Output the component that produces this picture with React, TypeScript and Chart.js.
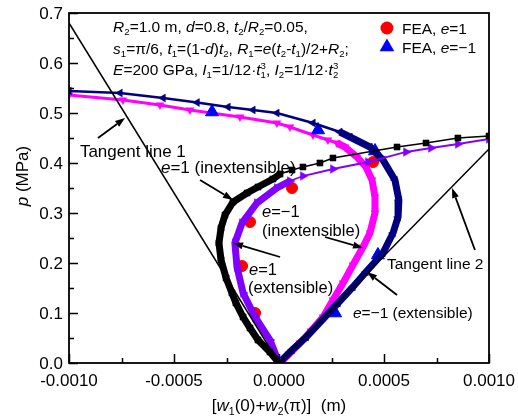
import { useEffect, useRef } from "react";
import { Chart, registerables } from "chart.js";
Chart.register(...registerables);

const FONT = '"Liberation Sans", Arial, Helvetica, sans-serif';

// ---------- data (x in m, p in MPa) ----------
const xTickValues = [-0.001, -0.0005, 0, 0.0005, 0.001];
const xTickLabels = ["-0.0010", "-0.0005", "0.0000", "0.0005", "0.0010"];
const yTickValues = [0, 0.1, 0.2, 0.3, 0.4, 0.5, 0.6, 0.7];
const yTickLabels = ["0.0", "0.1", "0.2", "0.3", "0.4", "0.5", "0.6", "0.7"];

// e=1 (inextensible) - black squares
const e1InextX = [0, -0.000043, -0.0001, -0.000138, -0.000171, -0.000205, -0.000224, -0.000252, -0.000276, -0.000286, -0.000276, -0.000257, -0.000219, -0.000152, -0.0001, -0.000029, 0.000005, 0.000062, 0.000114, 0.000195, 0.000257, 0.000562, 0.0007, 0.000852, 0.001];
const e1InextP = [0, 0.022, 0.046, 0.07, 0.092, 0.12, 0.14, 0.17, 0.206, 0.24, 0.27, 0.296, 0.322, 0.34, 0.352, 0.368, 0.378, 0.386, 0.392, 0.4, 0.41, 0.432, 0.44, 0.45, 0.454];

// e=1 (extensible) - violet right triangles
const e1ExtX = [0, -0.000043, -0.000114, -0.000171, -0.0002, -0.00021, -0.000176, -0.000105, -0.00001, 0.000052, 0.000114, 0.000257, 0.000424, 0.000605, 0.000724, 0.000852, 0.001];
const e1ExtP = [0, 0.046, 0.092, 0.14, 0.192, 0.24, 0.28, 0.32, 0.35, 0.364, 0.374, 0.388, 0.402, 0.422, 0.43, 0.438, 0.448];

// e=-1 (inextensible) - magenta down triangles
const em1InextX = [-0.001, -0.000743, -0.000567, -0.000424, -0.000186, -0.00001, 0.000052, 0.000162, 0.000233, 0.000276, 0.000314, 0.000371, 0.000414, 0.000443, 0.000457, 0.000457, 0.000433, 0.0004, 0.000352, 0.000305, 0.000257, 0.00021, 0.000152, 0.0001, 0.000048, 0.000005];
const em1InextP = [0.536, 0.526, 0.516, 0.506, 0.492, 0.48, 0.472, 0.456, 0.446, 0.44, 0.432, 0.412, 0.392, 0.366, 0.332, 0.3, 0.26, 0.232, 0.196, 0.16, 0.126, 0.092, 0.064, 0.04, 0.018, 0];

// e=-1 (extensible) - navy left triangles
const em1ExtX = [-0.001, -0.000757, -0.000552, -0.00039, -0.000243, -0.000124, -0.00001, 0.000162, 0.00029, 0.000338, 0.000433, 0.000495, 0.000552, 0.000571, 0.000567, 0.000543, 0.000495, 0.000414, 0.000352, 0.000281, 0.00013, 0.000062, 0];
const em1ExtP = [0.544, 0.54, 0.53, 0.521, 0.512, 0.506, 0.5, 0.48, 0.462, 0.452, 0.432, 0.406, 0.366, 0.326, 0.292, 0.26, 0.22, 0.182, 0.152, 0.12, 0.052, 0.026, 0];

// FEA results
const feaE1X = [-0.000114, -0.000176, -0.000138, 0.000062, 0.000448];
const feaE1P = [0.1, 0.194, 0.282, 0.35, 0.402];
const feaEm1X = [-0.000319, 0.000186, 0.000457, 0.000471, 0.000267];
const feaEm1P = [0.502, 0.466, 0.424, 0.216, 0.1];

// tangent lines
const tangent1X = [-0.001, 0];
const tangent1P = [0.68, 0];
const tangent2X = [0, 0.001];
const tangent2P = [0, 0.428];

// ---------- text ----------
type Seg = { t: string; i?: boolean; b?: "sub" | "sup"; stack?: boolean };

const paramLines: Seg[][] = [
  [{ t: "R", i: true }, { t: "2", b: "sub" }, { t: "=1.0 m, " }, { t: "d", i: true }, { t: "=0.8, " }, { t: "t", i: true }, { t: "2", b: "sub" }, { t: "/" }, { t: "R", i: true }, { t: "2", b: "sub" }, { t: "=0.05," }],
  [{ t: "s", i: true }, { t: "1", b: "sub" }, { t: "=π/6, " }, { t: "t", i: true }, { t: "1", b: "sub" }, { t: "=(1-" }, { t: "d", i: true }, { t: ")" }, { t: "t", i: true }, { t: "2", b: "sub" }, { t: ", " }, { t: "R", i: true }, { t: "1", b: "sub" }, { t: "=" }, { t: "e", i: true }, { t: "(" }, { t: "t", i: true }, { t: "2", b: "sub" }, { t: "-" }, { t: "t", i: true }, { t: "1", b: "sub" }, { t: ")/2+" }, { t: "R", i: true }, { t: "2", b: "sub" }, { t: ";" }],
  [{ t: "E", i: true }, { t: "=200 GPa, " }, { t: "I", i: true }, { t: "1", b: "sub" }, { t: "=1/12·" }, { t: "t", i: true }, { t: "1", b: "sub" }, { t: "3", b: "sup", stack: true }, { t: ", " }, { t: "I", i: true }, { t: "2", b: "sub" }, { t: "=1/12·" }, { t: "t", i: true }, { t: "2", b: "sub" }, { t: "3", b: "sup", stack: true }],
];
const legendLabels: Seg[][] = [
  [{ t: "FEA, " }, { t: "e", i: true }, { t: "=1" }],
  [{ t: "FEA, " }, { t: "e", i: true }, { t: "=−1" }],
];
const xTitle: Seg[] = [{ t: "[" }, { t: "w", i: true }, { t: "1", b: "sub" }, { t: "(0)+" }, { t: "w", i: true }, { t: "2", b: "sub" }, { t: "(π)]  (m)" }];
const yTitle: Seg[] = [{ t: "p", i: true }, { t: " (MPa)" }];

// annotation placement (data coords: left x, baseline p) and font size
const notes: { segs: Seg[]; x: number; p: number; size: number }[] = [
  { segs: [{ t: "Tangent line 1" }], x: -0.000948, p: 0.412, size: 17 },
  { segs: [{ t: "e", i: true }, { t: "=1 (inextensible)" }], x: -0.000562, p: 0.38, size: 17 },
  { segs: [{ t: "e", i: true }, { t: "=−1" }], x: -0.000081, p: 0.292, size: 16.5 },
  { segs: [{ t: "(inextensible)" }], x: -0.000081, p: 0.254, size: 16.5 },
  { segs: [{ t: "e", i: true }, { t: "=1" }], x: -0.000143, p: 0.176, size: 16.5 },
  { segs: [{ t: "(extensible)" }], x: -0.000148, p: 0.14, size: 16.5 },
  { segs: [{ t: "Tangent line 2" }], x: 0.000514, p: 0.188, size: 15.5 },
  { segs: [{ t: "e", i: true }, { t: "=−1 (extensible)" }], x: 0.000352, p: 0.09, size: 15.5 },
];
// arrows: tail -> head (data coords)
const arrows = [
  [-0.000862, 0.45, -0.000733, 0.49],
  [-0.000376, 0.366, -0.000219, 0.326],
  [0.000219, 0.252, 0.0004, 0.23],
  [0.000005, 0.212, -0.000219, 0.24],
  [0.000933, 0.226, 0.000824, 0.35],
  [0.000562, 0.136, 0.000419, 0.182],
];

function segFont(s: Seg, size: number) {
  const fs = s.b ? size * 0.62 : size;
  return `${s.i ? "italic " : ""}${fs}px ${FONT}`;
}
function richWidth(ctx: CanvasRenderingContext2D, segs: Seg[], size: number) {
  let w = 0;
  let last = 0;
  for (const s of segs) {
    ctx.font = segFont(s, size);
    const m = ctx.measureText(s.t).width;
    if (s.stack) {
      w += Math.max(0, m - last);
    } else w += m;
    last = m;
  }
  return w;
}
function drawRich(ctx: CanvasRenderingContext2D, segs: Seg[], x: number, y: number, size: number, align: "left" | "center" | "right" = "left") {
  const tw = richWidth(ctx, segs, size);
  let cx = align === "center" ? x - tw / 2 : align === "right" ? x - tw : x;
  let lastW = 0;
  ctx.textAlign = "left";
  ctx.textBaseline = "alphabetic";
  for (const s of segs) {
    ctx.font = segFont(s, size);
    const dy = s.b === "sub" ? size * 0.22 : s.b === "sup" ? -size * 0.4 : 0;
    const w = ctx.measureText(s.t).width;
    if (s.stack) {
      cx -= lastW;
    }
    ctx.fillText(s.t, cx, y + dy);
    cx += s.stack ? Math.max(w, lastW) : w;
    lastW = w;
  }
}
function drawArrow(ctx: CanvasRenderingContext2D, x1: number, y1: number, x2: number, y2: number) {
  const ang = Math.atan2(y2 - y1, x2 - x1);
  const len = 10, hw = 3.5;
  const bx = x2 - Math.cos(ang) * len, by = y2 - Math.sin(ang) * len;
  ctx.beginPath();
  ctx.moveTo(x1, y1);
  ctx.lineTo(bx, by);
  ctx.lineWidth = 1.8;
  ctx.strokeStyle = "#000";
  ctx.stroke();
  ctx.beginPath();
  ctx.moveTo(x2, y2);
  ctx.lineTo(bx - Math.sin(ang) * hw, by + Math.cos(ang) * hw);
  ctx.lineTo(bx + Math.sin(ang) * hw, by - Math.cos(ang) * hw);
  ctx.closePath();
  ctx.fillStyle = "#000";
  ctx.fill();
}

const pts = (xs: number[], ps: number[]) => xs.map((x, i) => ({ x, y: ps[i] }));

const overlay = {
  id: "overlay",
  afterDraw(chart: any) {
    const ctx: CanvasRenderingContext2D = chart.ctx;
    const xs = chart.scales.x, ys = chart.scales.y;
    const a = chart.chartArea;
    ctx.save();
    // ticks inward
    ctx.strokeStyle = "#000";
    ctx.lineWidth = 1.5;
    ctx.beginPath();
    for (let k = 0; k <= 8; k++) {
      const v = -0.001 + k * 0.00025;
      const px = Math.round(xs.getPixelForValue(v)) + 0.5;
      const L = k % 2 === 0 ? 9 : 5;
      ctx.moveTo(px, a.bottom);
      ctx.lineTo(px, a.bottom - L);
    }
    for (let k = 0; k <= 14; k++) {
      const v = k * 0.05;
      const py = Math.round(ys.getPixelForValue(v)) + 0.5;
      const L = k % 2 === 0 ? 9 : 5;
      ctx.moveTo(a.left, py);
      ctx.lineTo(a.left + L, py);
    }
    ctx.stroke();
    // box
    ctx.lineWidth = 1.8;
    ctx.strokeRect(a.left, a.top, a.right - a.left, a.bottom - a.top);

    ctx.fillStyle = "#000";
    // tick labels
    xTickValues.forEach((v, i) => drawRich(ctx, [{ t: xTickLabels[i] }], xs.getPixelForValue(v), a.bottom + 23, 17, "center"));
    yTickValues.forEach((v, i) => drawRich(ctx, [{ t: yTickLabels[i] }], a.left - 6, ys.getPixelForValue(v) + 6, 17, "right"));

    // parameters
    const bx = xs.getPixelForValue(-0.00079);
    const base = [0.662, 0.618, 0.576];
    paramLines.forEach((l, i) => drawRich(ctx, l, bx, ys.getPixelForValue(base[i]), 15.5));

    // legend
    const lx = xs.getPixelForValue(0.000514);
    const ly1 = ys.getPixelForValue(0.67), ly2 = ys.getPixelForValue(0.632);
    ctx.fillStyle = "#FF0000";
    ctx.beginPath();
    ctx.arc(lx, ly1, 6.5, 0, Math.PI * 2);
    ctx.fill();
    ctx.fillStyle = "#0000FF";
    ctx.beginPath();
    const r = 8.5;
    ctx.moveTo(lx, ly2 - r);
    ctx.lineTo(lx + r * 0.866, ly2 + r * 0.5);
    ctx.lineTo(lx - r * 0.866, ly2 + r * 0.5);
    ctx.closePath();
    ctx.fill();
    ctx.fillStyle = "#000";
    drawRich(ctx, legendLabels[0], lx + 15, ly1 + 5.5, 15.5);
    drawRich(ctx, legendLabels[1], lx + 15, ly2 + 5.5, 15.5);

    // annotations
    notes.forEach((n) => drawRich(ctx, n.segs, xs.getPixelForValue(n.x), ys.getPixelForValue(n.p), n.size));
    arrows.forEach((ar) =>
      drawArrow(ctx, xs.getPixelForValue(ar[0]), ys.getPixelForValue(ar[1]), xs.getPixelForValue(ar[2]), ys.getPixelForValue(ar[3]))
    );

    // axis titles
    ctx.fillStyle = "#000";
    drawRich(ctx, xTitle, (a.left + a.right) / 2, 411, 17, "center");
    ctx.save();
    ctx.translate(28, 176);
    ctx.rotate(-Math.PI / 2);
    drawRich(ctx, yTitle, 0, 0, 17, "center");
    ctx.restore();
    ctx.restore();
  },
};

function curve(label: string, xs: number[], ps: number[], color: string, style: string, rot: number, radius: number, dense: [number, number], thin: number) {
  return {
    label,
    data: pts(xs, ps),
    showLine: true,
    borderColor: color,
    backgroundColor: color,
    pointBackgroundColor: color,
    pointBorderColor: color,
    pointBorderWidth: 0.5,
    pointStyle: style,
    rotation: rot,
    pointRadius: radius,
    borderWidth: thin,
    segment: {
      borderWidth: (c: any) => (c.p0DataIndex >= dense[0] && c.p1DataIndex <= dense[1] ? 7 : thin),
    },
  };
}

export default function App() {
  const ref = useRef<HTMLCanvasElement>(null);
  useEffect(() => {
    document.body.style.margin = "0";
    if (!ref.current) return;
    const chart = new Chart(ref.current, {
      type: "scatter",
      data: {
        datasets: [
          { label: "Tangent line 1", data: pts(tangent1X, tangent1P), showLine: true, borderColor: "#000", borderWidth: 1.5, pointRadius: 0 },
          { label: "Tangent line 2", data: pts(tangent2X, tangent2P), showLine: true, borderColor: "#000", borderWidth: 1.5, pointRadius: 0 },
          curve("e=1 (inextensible)", e1InextX, e1InextP, "#000000", "rect", 0, 4.3, [0, 16], 1.5),
          curve("e=1 (extensible)", e1ExtX, e1ExtP, "#8000FF", "triangle", 90, 5, [0, 9], 1.8),
          curve("e=-1 (extensible)", em1ExtX, em1ExtP, "#000080", "triangle", 270, 4.5, [8, 22], 2.5),
          { label: "FEA, e=-1", data: pts(feaEm1X, feaEm1P), showLine: false, pointStyle: "triangle", pointRadius: 7.5, pointBackgroundColor: "#0000FF", pointBorderColor: "#0000FF", backgroundColor: "#0000FF" },
          { label: "FEA, e=1", data: pts(feaE1X, feaE1P), showLine: false, pointStyle: "circle", pointRadius: 5.5, pointBackgroundColor: "#FF0000", pointBorderColor: "#FF0000", backgroundColor: "#FF0000" },
          curve("e=-1 (inextensible)", em1InextX, em1InextP, "#FF00FF", "triangle", 180, 4.5, [9, 25], 3),
        ],
      },
      options: {
        animation: false,
        responsive: false,
        devicePixelRatio: 1,
        layout: { padding: { top: 13, right: 29, left: 69, bottom: 55 } },
        plugins: { legend: { display: false }, tooltip: { enabled: false } },
        scales: {
          x: { type: "linear", min: -0.001, max: 0.001, display: false },
          y: { type: "linear", min: 0, max: 0.7, display: false },
        },
      },
      plugins: [overlay],
    } as any);
    return () => chart.destroy();
  }, []);
  return (
    <div style={{ width: 518, height: 418 }}>
      <canvas ref={ref} width={518} height={418} style={{ display: "block" }} />
    </div>
  );
}
